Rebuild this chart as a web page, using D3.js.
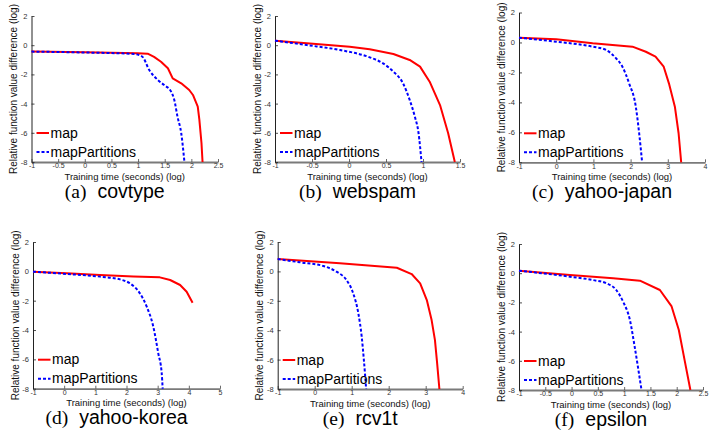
<!DOCTYPE html>
<html>
<head>
<meta charset="utf-8">
<script src="https://cdn.jsdelivr.net/npm/d3@7"></script>
<style>
  html, body { margin: 0; padding: 0; background: #fff; }
  svg { display: block; }
  text { font-family: "Liberation Sans", Arial, Helvetica, sans-serif; }
</style>
</head>
<body>
<svg id="chart" width="721" height="437"></svg>
<script>
// ---------------- DATA ----------------
const seriesNames = ["map", "mapPartitions"];
const yTicks = [2, 0, -2, -4, -6, -8];
const xTicksHalf = [-1, -0.5, 0, 0.5, 1, 1.5, 2, 2.5];
const xTicksWebspam = [-1, -0.5, 0, 0.5, 1, 1.5];
const xTicksFour = [-1, 0, 1, 2, 3, 4];
const xTicksFive = [-1, 0, 1, 2, 3, 4, 5];

const covtypeMap = [[-1,-0.44],[0,-0.48],[0.99,-0.55],[1.18,-0.58],[1.3,-0.8],[1.43,-1.13],[1.56,-1.58],[1.65,-2.27],[1.81,-2.61],[1.96,-3.07],[2.03,-3.41],[2.12,-4.21],[2.15,-5.1],[2.19,-6.7],[2.21,-8]];
const covtypePart = [[-1,-0.44],[0,-0.5],[0.93,-0.6],[1.08,-0.79],[1.21,-1.70],[1.37,-2.38],[1.49,-2.73],[1.62,-3.18],[1.68,-3.75],[1.74,-4.9],[1.81,-6.03],[1.87,-8]];

const webspamMap = [[-1,0.31],[-0.57,0.13],[0.01,-0.10],[0.28,-0.28],[0.60,-0.60],[0.82,-1.01],[0.96,-1.47],[1.09,-2.5],[1.23,-4.1],[1.34,-6.03],[1.43,-8]];
const webspamPart = [[-1,0.31],[-0.57,0.01],[-0.12,-0.33],[0.28,-0.83],[0.46,-1.24],[0.60,-1.81],[0.73,-2.61],[0.82,-3.75],[0.89,-4.9],[0.94,-6.03],[0.98,-8]];

const yahooJapanMap = [[-1,0.32],[0,0.21],[0.98,-0.06],[2.05,-0.28],[2.41,-0.62],[2.67,-0.95],[2.89,-1.62],[3.03,-2.73],[3.19,-4.29],[3.29,-6.06],[3.36,-8]];
const yahooJapanPart = [[-1,0.32],[0,0.05],[0.98,-0.28],[1.34,-0.5],[1.61,-1.06],[1.78,-1.62],[1.96,-2.73],[2.14,-4.29],[2.23,-6.06],[2.31,-8]];

const yahooKoreaMap = [[-1,-0.02],[0.08,-0.13],[1.15,-0.25],[2.22,-0.36],[3.07,-0.41],[3.4,-0.59],[3.72,-0.93],[3.93,-1.39],[4.12,-2.14]];
const yahooKoreaPart = [[-1,-0.02],[0.08,-0.18],[1.15,-0.36],[1.79,-0.55],[2.11,-0.82],[2.43,-1.5],[2.65,-2.41],[2.86,-3.77],[3.02,-5.59],[3.13,-6.95],[3.16,-8]];

const rcv1tMap = [[-1,0.84],[0.68,0.55],[2.22,0.25],[2.62,-0.18],[2.85,-0.81],[3.03,-1.95],[3.16,-3.31],[3.25,-4.67],[3.31,-6.27],[3.37,-8]];
const rcv1tPart = [[-1,0.84],[-0.4,0.62],[0.23,0.37],[0.59,-0.02],[0.86,-0.59],[1.04,-1.49],[1.18,-2.86],[1.27,-4.44],[1.33,-6.05],[1.39,-8]];

const epsilonMap = [[-1,0.17],[-0.03,-0.12],[0.79,-0.35],[1.30,-0.51],[1.68,-1.15],[1.90,-2.25],[2.04,-3.89],[2.15,-5.95],[2.26,-8]];
const epsilonPart = [[-1,0.17],[-0.03,-0.24],[0.41,-0.47],[0.66,-0.69],[0.85,-1.15],[0.98,-1.95],[1.11,-3.21],[1.20,-5.03],[1.33,-8]];

const xLabel = "Training time (seconds) (log)";
const yLabel = "Relative function value difference (log)";

// ---------------- LAYOUT ----------------
const panels = [
  {letter:"(a)", name:"covtype",     map:covtypeMap,    part:covtypePart,    xt:xTicksHalf,    l:31.5, r:218,   t:16,   b:162},
  {letter:"(b)", name:"webspam",     map:webspamMap,    part:webspamPart,    xt:xTicksWebspam, l:275,  r:460,   t:16,   b:162},
  {letter:"(c)", name:"yahoo-japan", map:yahooJapanMap, part:yahooJapanPart, xt:xTicksFour,    l:519,  r:705,   t:12.5, b:162.3},
  {letter:"(d)", name:"yahoo-korea", map:yahooKoreaMap, part:yahooKoreaPart, xt:xTicksFive,    l:33,   r:220,   t:242,  b:388.7},
  {letter:"(e)", name:"rcv1t",       map:rcv1tMap,      part:rcv1tPart,      xt:xTicksFour,    l:277.7,r:462.7, t:242,  b:389},
  {letter:"(f)", name:"epsilon",     map:epsilonMap,    part:epsilonPart,    xt:xTicksHalf,    l:519,  r:703,   t:244,  b:390}
];

const svg = d3.select("#chart");
const fmt = v => String(v);

panels.forEach(p => {
  const g = svg.append("g");
  const x = d3.scaleLinear().domain([p.xt[0], p.xt[p.xt.length-1]]).range([p.l, p.r]);
  const y = d3.scaleLinear().domain([-8, 2]).range([p.b, p.t]);

  // bottom axis
  const xa = g.append("g").attr("transform", `translate(0,${p.b})`)
    .call(d3.axisBottom(x).tickValues(p.xt).tickFormat(fmt).tickSizeInner(-3).tickSizeOuter(0).tickPadding(1.5));
  xa.select(".domain").attr("stroke", "#7a7a7a").attr("stroke-width", 1.8);
  xa.selectAll(".tick line").attr("stroke", "#444").attr("stroke-width", 0.8);
  xa.selectAll("text").attr("font-size", 7).attr("fill", "#333")
    .attr("font-family", "Liberation Sans, Arial, sans-serif");

  // left axis
  const ya = g.append("g").attr("transform", `translate(${p.l},0)`)
    .call(d3.axisLeft(y).tickValues(yTicks).tickFormat(fmt).tickSizeInner(-3).tickSizeOuter(0).tickPadding(4));
  ya.select(".domain").attr("stroke", "#222").attr("stroke-width", 1);
  ya.selectAll(".tick line").attr("stroke", "#222").attr("stroke-width", 0.8);
  ya.selectAll("text").attr("font-size", 7.5).attr("fill", "#333")
    .attr("font-family", "Liberation Sans, Arial, sans-serif");

  // curves
  const line = d3.line().x(d => x(d[0])).y(d => y(d[1]));
  g.append("path").datum(p.map).attr("d", line)
    .attr("fill", "none").attr("stroke", "#ff0000").attr("stroke-width", 2)
    .attr("stroke-linejoin", "round");
  g.append("path").datum(p.part).attr("d", line.curve(d3.curveMonotoneX))
    .attr("fill", "none").attr("stroke", "#0000ff").attr("stroke-width", 2)
    .attr("stroke-dasharray", "3,2");

  // legend
  const leg = [
    {name: seriesNames[0], color:"#ff0000", dash:null, dy:29},
    {name: seriesNames[1], color:"#0000ff", dash:"3,2", dy:10}
  ];
  leg.forEach(e => {
    const ly = p.b - e.dy;
    g.append("line").attr("x1", p.l + 5).attr("x2", p.l + 17.5).attr("y1", ly).attr("y2", ly)
      .attr("stroke", e.color).attr("stroke-width", 2).attr("stroke-dasharray", e.dash);
    g.append("text").attr("x", p.l + 19).attr("y", ly).attr("dy", "0.33em")
      .attr("font-size", 14).attr("fill", "#000").text(e.name);
  });

  // axis labels
  g.append("text").attr("x", (p.l + p.r) / 2).attr("y", p.b + 17.5)
    .attr("text-anchor", "middle").attr("font-size", 9.5).attr("fill", "#111").text(xLabel);
  g.append("text")
    .attr("transform", `translate(${p.l - 14.5},${(p.t + p.b) / 2}) rotate(-90)`)
    .attr("text-anchor", "middle").attr("font-size", 10).attr("fill", "#111").text(yLabel);

  // caption
  const cap = g.append("text").attr("x", (p.l + p.r) / 2 - 10).attr("y", p.b + 35.5)
    .attr("text-anchor", "middle").attr("font-size", 19.5).attr("fill", "#000");
  cap.append("tspan").attr("font-family", "Liberation Serif, Times New Roman, serif").text(p.letter);
  cap.append("tspan").attr("dx", 11).text(p.name);
});
</script>
</body>
</html>
